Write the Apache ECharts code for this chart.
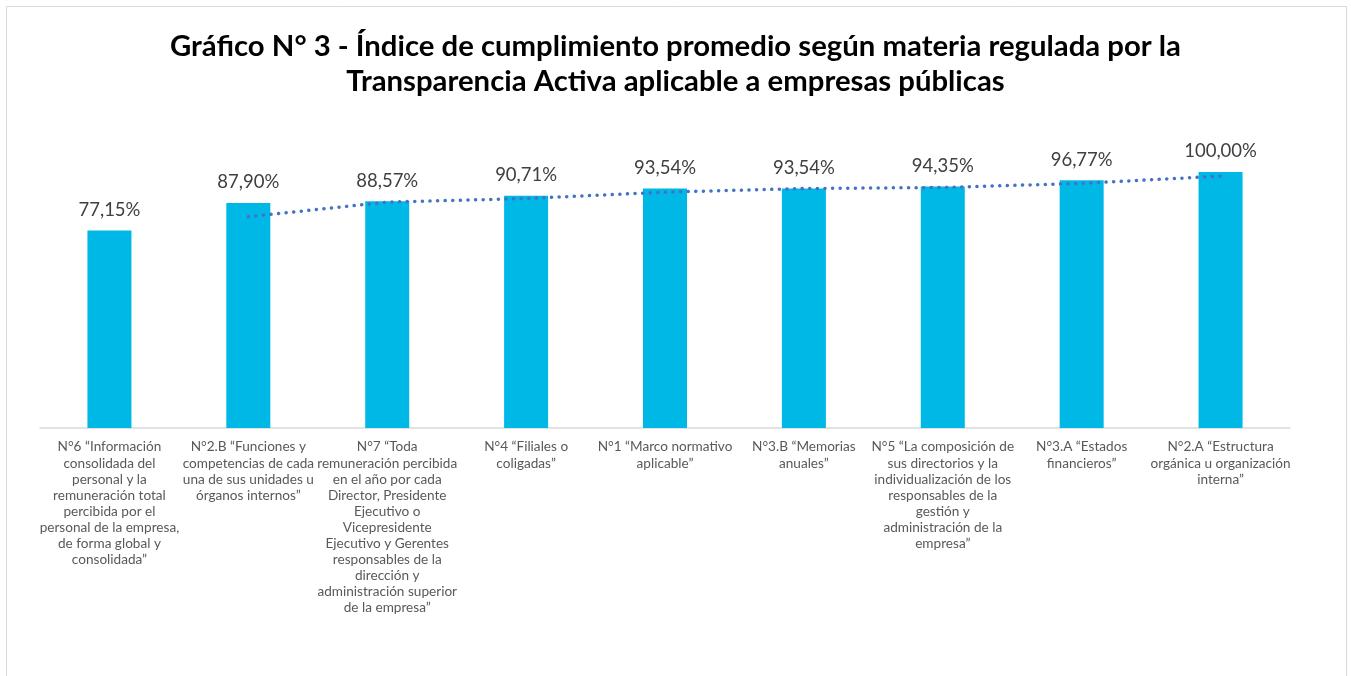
<!DOCTYPE html>
<html>
<head>
<meta charset="utf-8">
<script src="https://cdn.jsdelivr.net/npm/echarts@6/dist/echarts.min.js"></script>
<style>
  html, body { margin: 0; padding: 0; background: #fff; }
  #chart { width: 1351px; height: 676px; }
</style>
</head>
<body>
<div id="chart"></div>
<script>
// Categories (line breaks as in the source chart)
const categories = [
  "N°6 “Información\nconsolidada del\npersonal y la\nremuneración total\npercibida por el\npersonal de la empresa,\nde forma global y\nconsolidada”",
  "N°2.B “Funciones y\ncompetencias de cada\nuna de sus unidades u\nórganos internos”",
  "N°7 “Toda\nremuneración percibida\nen el año por cada\nDirector, Presidente\nEjecutivo o\nVicepresidente\nEjecutivo y Gerentes\nresponsables de la\ndirección y\nadministración superior\nde la empresa”",
  "N°4 “Filiales o\ncoligadas”",
  "N°1 “Marco normativo\naplicable”",
  "N°3.B “Memorias\nanuales”",
  "N°5 “La composición de\nsus directorios y la\nindividualización de los\nresponsables de la\ngestión y\nadministración de la\nempresa”",
  "N°3.A “Estados\nfinancieros”",
  "N°2.A “Estructura\norgánica u organización\ninterna”"
];

// Compliance index (%)
const values = [77.15, 87.90, 88.57, 90.71, 93.54, 93.54, 94.35, 96.77, 100.00];

// Dotted trend line (2-period moving average as drawn in the source)
const trend = [null, 82.53, 88.24, 89.64, 92.13, 93.54, 93.95, 95.56, 98.39];

const chart = echarts.init(document.getElementById("chart"));

chart.setOption({
  animation: false,
  textStyle: { fontFamily: "Lato, 'Noto Sans', sans-serif" },
  title: {
    text: "Gráfico N° 3 - Índice de cumplimiento promedio según materia regulada por la\nTransparencia Activa aplicable a empresas públicas",
    left: "center",
    top: 24,
    textStyle: {
      fontFamily: "Lato, sans-serif",
      fontSize: 29.3,
      fontWeight: "bold",
      color: "#000",
      lineHeight: 35
    }
  },
  graphic: [{
    type: "rect",
    shape: { x: 6.5, y: 6.5, width: 1340, height: 700 },
    style: { fill: "none", stroke: "#d9d9d9", lineWidth: 1 },
    silent: true
  }],
  grid: { left: 40, right: 61, top: 172, bottom: 248 },
  xAxis: {
    type: "category",
    data: categories,
    axisLine: { lineStyle: { color: "#d9d9d9", width: 1.5 } },
    axisTick: { show: false },
    axisLabel: {
      interval: 0,
      margin: 11,
      color: "#595959",
      fontSize: 13.6,
      lineHeight: 16.1,
      fontFamily: "Lato, sans-serif"
    }
  },
  yAxis: {
    type: "value",
    min: 0,
    max: 100,
    show: false,
    splitLine: { show: false }
  },
  series: [
    {
      type: "bar",
      data: values,
      barWidth: 44,
      itemStyle: { color: "#00b8e6" },
      label: {
        show: true,
        position: "top",
        distance: 11,
        color: "#404040",
        fontSize: 18.5,
        fontFamily: "Lato, sans-serif",
        formatter: (p) => p.value.toFixed(2).replace(".", ",") + "%"
      }
    },
    {
      type: "line",
      data: trend,
      symbol: "none",
      connectNulls: false,
      lineStyle: { color: "#4472c4", width: 3.5, type: [0.1, 7.5], cap: "round" },
      z: 5
    }
  ]
});
</script>
</body>
</html>
